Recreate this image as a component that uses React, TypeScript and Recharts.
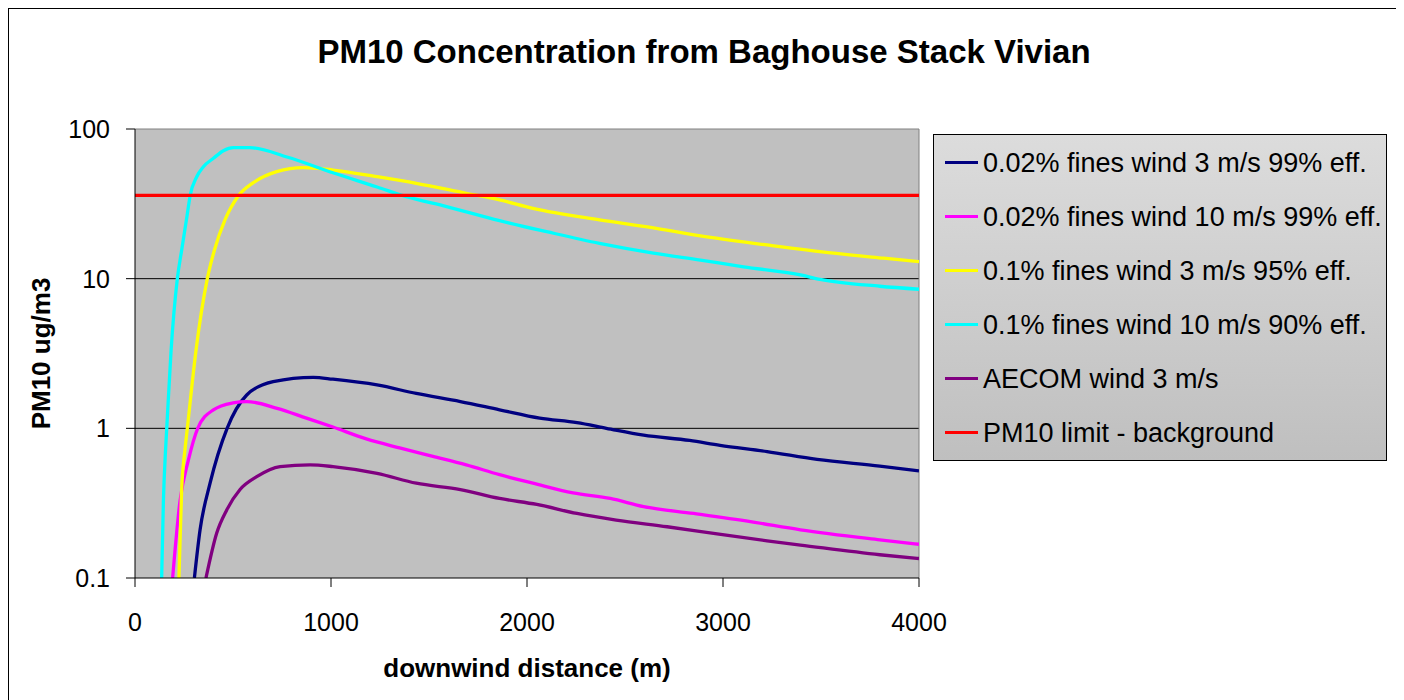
import React from 'react';
import { LineChart, Line, XAxis, YAxis, CartesianGrid, ReferenceLine, Label } from 'recharts';

const FONT = '"Liberation Sans", Arial, Helvetica, sans-serif';

const TITLE = 'PM10 Concentration from Baghouse Stack Vivian';
const X_TITLE = 'downwind distance (m)';
const Y_TITLE = 'PM10 ug/m3';

const DIST_TICKS = [0, 1000, 2000, 3000, 4000];
const CONC_TICKS = [0.1, 1, 10, 100];

// 0.02% fines wind 3 m/s 99% eff.
const navyDist = [303, 332, 383, 470, 570, 705, 910, 1010, 1235, 1435, 1660, 1860, 2065, 2255, 2405, 2595, 2830, 2985, 3225, 3480, 3800, 4000];
const navyConc = [0.1, 0.21, 0.43, 1.0, 1.67, 2.05, 2.19, 2.13, 1.95, 1.71, 1.51, 1.33, 1.17, 1.09, 1.0, 0.9, 0.83, 0.77, 0.7, 0.62, 0.56, 0.52];

// 0.02% fines wind 10 m/s 99% eff.
const magentaDist = [192, 230, 272, 320, 400, 500, 570, 725, 875, 1010, 1180, 1350, 1520, 1690, 1860, 2030, 2235, 2425, 2595, 2850, 3140, 3395, 3800, 4000];
const magentaConc = [0.1, 0.33, 0.61, 1.0, 1.33, 1.48, 1.51, 1.36, 1.17, 1.02, 0.85, 0.74, 0.65, 0.57, 0.49, 0.43, 0.37, 0.34, 0.3, 0.27, 0.238, 0.21, 0.18, 0.168];

// 0.1% fines wind 3 m/s 95% eff.
const yellowDist = [224, 238, 255, 267, 311, 369, 405, 459, 527, 604, 723, 860, 1010, 1235, 1435, 1690, 1860, 2030, 2370, 2630, 2885, 3225, 3565, 3820, 4000];
const yellowConc = [0.1, 0.39, 0.72, 1.0, 3.3, 10, 15.5, 24.7, 35.7, 43.8, 51.9, 55.2, 53.2, 48, 43.4, 37.2, 33.6, 29.5, 24.7, 22.0, 19.3, 16.8, 14.8, 13.7, 13.0];

// 0.1% fines wind 10 m/s 90% eff.
const cyanDist = [136, 145, 156, 162, 184, 216, 238, 265, 281, 315, 349, 400, 451, 502, 587, 775, 1010, 1235, 1385, 1590, 1860, 2100, 2370, 2645, 2885, 3105, 3395, 3495, 3800, 4000];
const cyanConc = [0.1, 0.33, 0.72, 1.0, 3.3, 10, 15.5, 26, 35.7, 48, 56, 63.7, 71.6, 75, 75, 65, 51, 41, 35.3, 30.3, 24.4, 20.6, 17.2, 14.8, 13.3, 12.0, 10.6, 9.9, 8.9, 8.5];

// AECOM wind 3 m/s
const purpleDist = [362, 417, 468, 536, 621, 740, 893, 1010, 1235, 1435, 1660, 1860, 2050, 2255, 2455, 2715, 2970, 3225, 3395, 3800, 4000];
const purpleConc = [0.1, 0.2, 0.285, 0.39, 0.475, 0.555, 0.57, 0.555, 0.5, 0.43, 0.39, 0.34, 0.31, 0.27, 0.244, 0.22, 0.197, 0.177, 0.166, 0.143, 0.135];

// PM10 limit - background
const limitDist = [0, 4000];
const limitConc = [36, 36];

const zip = (xs: number[], ys: number[]) => xs.map((x, i) => ({ x, y: ys[i] }));

const SERIES = [
  { name: '0.02% fines wind 3 m/s 99% eff.', color: '#000080', data: zip(navyDist, navyConc) },
  { name: '0.02% fines wind 10 m/s 99% eff.', color: '#FF00FF', data: zip(magentaDist, magentaConc) },
  { name: '0.1% fines wind 3 m/s 95% eff.', color: '#FFFF00', data: zip(yellowDist, yellowConc) },
  { name: '0.1% fines wind 10 m/s 90% eff.', color: '#00FFFF', data: zip(cyanDist, cyanConc) },
  { name: 'AECOM wind 3 m/s', color: '#800080', data: zip(purpleDist, purpleConc) },
  { name: 'PM10 limit - background', color: '#FF0000', data: zip(limitDist, limitConc) },
];

const XTitle = (props: any) => {
  const vb = props.viewBox || {};
  return (
    <text x={vb.x + vb.width / 2} y={vb.y + 98.7} textAnchor="middle" fontSize={26} fontWeight="bold" fill="#000" fontFamily={FONT}>
      {X_TITLE}
    </text>
  );
};

const YTitle = (props: any) => {
  const vb = props.viewBox || {};
  const cx = vb.x + 41.3;
  const cy = vb.y + vb.height / 2;
  return (
    <text x={cx} y={cy} transform={`rotate(-90, ${cx}, ${cy})`} textAnchor="middle" fontSize={26} fontWeight="bold" fill="#000" fontFamily={FONT}>
      {Y_TITLE}
    </text>
  );
};

export default function App() {
  return (
    <div
      style={{
        position: 'relative',
        width: 1392,
        height: 700,
        border: '1px solid #000',
        boxSizing: 'border-box',
        background: '#fff',
        fontFamily: FONT,
      }}
    >
      <div
        style={{
          position: 'absolute',
          left: 0,
          top: 23,
          width: 1390,
          textAlign: 'center',
          fontSize: 33,
          fontWeight: 'bold',
          lineHeight: '40px',
          color: '#000',
        }}
      >
        {TITLE}
      </div>
      <LineChart width={1390} height={690} margin={{ top: 120, right: 480, bottom: 0, left: 0 }} style={{ fontFamily: FONT }}>
        <CartesianGrid fill="#C0C0C0" stroke="#000" vertical={false} horizontalValues={[1, 10]} />
        <XAxis
          dataKey="x"
          type="number"
          domain={[0, 4000]}
          ticks={DIST_TICKS}
          allowDataOverflow
          interval={0}
          height={121}
          tickSize={9}
          tickMargin={26}
          axisLine={{ stroke: '#000' }}
          tickLine={{ stroke: '#000' }}
          tick={{ fontSize: 25, fill: '#000', fontFamily: FONT }}
        >
          <Label content={XTitle} />
        </XAxis>
        <YAxis
          type="number"
          scale="log"
          domain={[0.1, 100]}
          ticks={CONC_TICKS}
          allowDataOverflow
          interval={0}
          width={126}
          tickSize={9}
          tickMargin={16}
          axisLine={{ stroke: '#000' }}
          tickLine={{ stroke: '#000' }}
          tick={{ fontSize: 25, fill: '#000', fontFamily: FONT }}
        >
          <Label content={YTitle} />
        </YAxis>
        <ReferenceLine y={100} stroke="#808080" strokeWidth={1} />
        <ReferenceLine x={4000} stroke="#808080" strokeWidth={1} />
        {SERIES.map((s) => (
          <Line
            key={s.name}
            data={s.data}
            dataKey="y"
            name={s.name}
            type="monotone"
            stroke={s.color}
            strokeWidth={3.3}
            dot={false}
            activeDot={false}
            isAnimationActive={false}
          />
        ))}
      </LineChart>
      <div
        style={{
          position: 'absolute',
          left: 924,
          top: 125,
          width: 454,
          height: 327,
          border: '1px solid #000',
          boxSizing: 'border-box',
          background: 'linear-gradient(to bottom, #DCDCDC, #BFBFBF)',
        }}
      >
        {SERIES.map((s, i) => (
          <div
            key={s.name}
            style={{
              position: 'absolute',
              left: 0,
              top: 0.7 + 54 * i,
              height: 54,
              display: 'flex',
              alignItems: 'center',
              whiteSpace: 'nowrap',
            }}
          >
            <div style={{ marginLeft: 11, width: 33, height: 3, background: s.color }} />
            <span style={{ marginLeft: 5, fontSize: 27, color: '#000', lineHeight: '30px' }}>{s.name}</span>
          </div>
        ))}
      </div>
    </div>
  );
}
